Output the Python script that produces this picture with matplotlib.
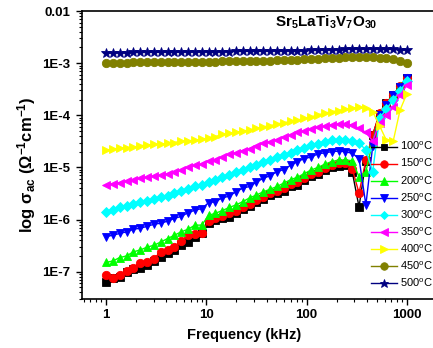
import matplotlib
matplotlib.use("Agg")
import matplotlib.pyplot as plt
from matplotlib.ticker import LogLocator, NullFormatter, FixedLocator, FixedFormatter

plt.rcParams['font.family'] = ['Liberation Sans', 'DejaVu Sans']
plt.rcParams['mathtext.fontset'] = 'custom'
plt.rcParams['mathtext.rm'] = 'Liberation Sans'
plt.rcParams['mathtext.bf'] = 'Liberation Sans:bold'
plt.rcParams['mathtext.it'] = 'Liberation Sans:italic'

# Frequency (kHz)
freq = [1.000, 1.170, 1.369, 1.601, 1.874, 2.193, 2.565, 3.001, 3.511, 4.108,
        4.806, 5.623, 6.579, 7.697, 9.006, 10.54, 12.33, 14.42, 16.88, 19.75,
        23.10, 27.03, 31.62, 37.00, 43.29, 50.65, 59.26, 69.33, 81.11, 94.91,
        111.0, 129.9, 152.0, 177.8, 208.1, 243.5, 284.8, 333.3, 389.9, 456.2,
        533.7, 624.5, 730.6, 854.8, 1000.0]

s100 = [6.3e-8, 7.6e-8, 7.9e-8, 1.0e-7, 1.12e-7, 1.2e-7, 1.35e-7, 1.62e-7, 1.9e-7, 2.3e-7,
        2.6e-7, 3.2e-7, 3.7e-7, 4.7e-7, 5.4e-7, 8.7e-7, 9.8e-7, 1.05e-6, 1.12e-6, 1.32e-6,
        1.58e-6, 1.82e-6, 2.2e-6, 2.5e-6, 2.95e-6, 3.2e-6, 3.6e-6, 4.3e-6, 4.6e-6, 5.8e-6,
        6.8e-6, 7.6e-6, 8.9e-6, 1.0e-5, 1.05e-5, 1.1e-5, 8.3e-6, 1.74e-6, 1.35e-5, 4.2e-5,
        1.07e-4, 1.7e-4, 2.45e-4, 3.55e-4, 5.1e-4]
s150 = [8.5e-8, 7.4e-8, 8.5e-8, 1.02e-7, 1.15e-7, 1.48e-7, 1.51e-7, 1.78e-7, 2.4e-7, 2.6e-7,
        2.95e-7, 3.9e-7, 5.0e-7, 5.2e-7, 5.5e-7, 9.5e-7, 1.05e-6, 1.17e-6, 1.32e-6, 1.48e-6,
        1.74e-6, 2.0e-6, 2.4e-6, 2.75e-6, 3.2e-6, 3.5e-6, 4.1e-6, 4.7e-6, 5.2e-6, 6.3e-6,
        7.4e-6, 8.3e-6, 9.8e-6, 1.1e-5, 1.2e-5, 1.23e-5, 9.5e-6, 3.2e-6, 1.38e-5, 4.2e-5,
        1.1e-4, 1.74e-4, 2.5e-4, 3.6e-4, 5.2e-4]
s200 = [1.5e-7, 1.6e-7, 1.86e-7, 2.0e-7, 2.4e-7, 2.6e-7, 2.95e-7, 3.2e-7, 3.7e-7, 4.3e-7,
        5.0e-7, 5.8e-7, 6.5e-7, 7.8e-7, 7.8e-7, 1.2e-6, 1.32e-6, 1.48e-6, 1.7e-6, 1.9e-6,
        2.2e-6, 2.6e-6, 2.95e-6, 3.4e-6, 3.8e-6, 4.3e-6, 5.0e-6, 5.8e-6, 6.5e-6, 7.6e-6,
        8.9e-6, 1.0e-5, 1.15e-5, 1.29e-5, 1.38e-5, 1.38e-5, 1.35e-5, 6.6e-6, 8.3e-6, 3.1e-5,
        1.02e-4, 1.58e-4, 2.45e-4, 3.6e-4, 5.1e-4]
s250 = [4.7e-7, 5.0e-7, 5.4e-7, 5.8e-7, 6.5e-7, 6.8e-7, 7.4e-7, 8.1e-7, 8.5e-7, 9.3e-7,
        1.05e-6, 1.15e-6, 1.35e-6, 1.51e-6, 1.62e-6, 2.1e-6, 2.2e-6, 2.6e-6, 2.8e-6, 3.4e-6,
        4.0e-6, 4.3e-6, 5.2e-6, 6.2e-6, 6.9e-6, 8.3e-6, 9.1e-6, 1.1e-5, 1.29e-5, 1.48e-5,
        1.58e-5, 1.82e-5, 1.9e-5, 2.0e-5, 2.05e-5, 2.0e-5, 1.86e-5, 1.48e-5, 1.9e-6, 2.6e-5,
        1.0e-4, 1.58e-4, 2.4e-4, 3.55e-4, 5.1e-4]
s300 = [1.41e-6, 1.55e-6, 1.7e-6, 1.82e-6, 1.95e-6, 2.15e-6, 2.3e-6, 2.5e-6, 2.7e-6, 2.8e-6,
        3.2e-6, 3.5e-6, 3.8e-6, 4.3e-6, 4.6e-6, 5.2e-6, 5.8e-6, 6.5e-6, 7.1e-6, 8.3e-6,
        8.9e-6, 1.0e-5, 1.1e-5, 1.29e-5, 1.41e-5, 1.58e-5, 1.74e-5, 1.9e-5, 2.15e-5, 2.4e-5,
        2.7e-5, 2.8e-5, 3.1e-5, 3.3e-5, 3.4e-5, 3.4e-5, 3.2e-5, 2.95e-5, 2.15e-5, 8.3e-6,
        8.7e-5, 1.32e-4, 1.95e-4, 2.95e-4, 4.5e-4]
s350 = [4.6e-6, 4.9e-6, 5.1e-6, 5.5e-6, 5.8e-6, 6.2e-6, 6.5e-6, 6.8e-6, 7.1e-6, 7.6e-6,
        8.1e-6, 8.9e-6, 1.0e-5, 1.1e-5, 1.15e-5, 1.35e-5, 1.41e-5, 1.58e-5, 1.78e-5, 1.9e-5,
        2.1e-5, 2.3e-5, 2.6e-5, 2.9e-5, 3.1e-5, 3.4e-5, 3.8e-5, 4.2e-5, 4.7e-5, 5.0e-5,
        5.4e-5, 5.9e-5, 6.2e-5, 6.5e-5, 6.8e-5, 6.8e-5, 6.5e-5, 5.6e-5, 4.7e-5, 3.2e-5,
        7.1e-5, 1.0e-4, 1.41e-4, 2.4e-4, 3.8e-4]
s400 = [2.15e-5, 2.25e-5, 2.35e-5, 2.4e-5, 2.45e-5, 2.6e-5, 2.7e-5, 2.75e-5, 2.8e-5, 2.9e-5,
        3.0e-5, 3.2e-5, 3.25e-5, 3.3e-5, 3.45e-5, 3.7e-5, 3.9e-5, 4.3e-5, 4.5e-5, 4.7e-5,
        5.0e-5, 5.2e-5, 5.6e-5, 6.0e-5, 6.3e-5, 6.8e-5, 7.2e-5, 7.6e-5, 8.1e-5, 8.7e-5,
        9.3e-5, 1.02e-4, 1.1e-4, 1.17e-4, 1.23e-4, 1.32e-4, 1.38e-4, 1.41e-4, 1.35e-4, 1.17e-4,
        6.3e-5, 3.3e-5, 3.2e-5, 1.26e-4, 2.6e-4]
s450 = [1.02e-3, 1.02e-3, 1.02e-3, 1.02e-3, 1.03e-3, 1.03e-3, 1.03e-3, 1.04e-3, 1.04e-3, 1.04e-3,
        1.05e-3, 1.05e-3, 1.06e-3, 1.06e-3, 1.06e-3, 1.07e-3, 1.07e-3, 1.08e-3, 1.08e-3, 1.09e-3,
        1.10e-3, 1.10e-3, 1.11e-3, 1.12e-3, 1.12e-3, 1.13e-3, 1.14e-3, 1.15e-3, 1.17e-3, 1.18e-3,
        1.20e-3, 1.21e-3, 1.23e-3, 1.25e-3, 1.28e-3, 1.30e-3, 1.31e-3, 1.32e-3, 1.31e-3, 1.29e-3,
        1.26e-3, 1.23e-3, 1.20e-3, 1.12e-3, 1.0e-3]
s500 = [1.58e-3, 1.58e-3, 1.59e-3, 1.59e-3, 1.60e-3, 1.60e-3, 1.61e-3, 1.61e-3, 1.62e-3, 1.62e-3,
        1.63e-3, 1.63e-3, 1.64e-3, 1.64e-3, 1.65e-3, 1.66e-3, 1.66e-3, 1.67e-3, 1.67e-3, 1.68e-3,
        1.68e-3, 1.69e-3, 1.70e-3, 1.70e-3, 1.71e-3, 1.72e-3, 1.72e-3, 1.73e-3, 1.73e-3, 1.74e-3,
        1.75e-3, 1.76e-3, 1.78e-3, 1.80e-3, 1.82e-3, 1.84e-3, 1.86e-3, 1.87e-3, 1.87e-3, 1.87e-3,
        1.86e-3, 1.85e-3, 1.83e-3, 1.80e-3, 1.75e-3]

labels = ['100', '150', '200', '250', '300', '350', '400', '450', '500']
series = [s100, s150, s200, s250, s300, s350, s400, s450, s500]
colors = ['#000000', '#FF0000', '#00FF00', '#0000FF', '#00FFFF', '#FF00FF', '#FFFF00', '#808000', '#000080']
markers = ['s', 'o', '^', 'v', 'D', '<', '>', 'o', '*']
msizes = [5.5, 6, 6, 6, 5, 6, 6, 6, 7]

ytick_vals = [1e-7, 1e-6, 1e-5, 1e-4, 1e-3, 1e-2]
ytick_labels = ['1E-7', '1E-6', '1E-5', '1E-4', '1E-3', '0.01']
xtick_vals = [1, 10, 100, 1000]
xtick_labels = ['1', '10', '100', '1000']

W, H = 433, 348
AX_L, AX_R, AX_T, AX_B = 81.7, 446.0, 11.0, 299.0
fig = plt.figure(figsize=(W / 100, H / 100), dpi=100)
ax = fig.add_axes([AX_L / W, 1 - AX_B / H, (AX_R - AX_L) / W, (AX_B - AX_T) / H])

for lab, ys, c, m, ms in zip(labels, series, colors, markers, msizes):
    ax.plot(freq, ys, color=c, marker=m, markersize=ms, markeredgewidth=0.6,
            markeredgecolor=c, linewidth=1.0, label=lab + r'$^{\mathrm{o}}$C')

ax.set_xscale('log')
ax.set_yscale('log')
ax.set_xlim(10 ** ((AX_L - 106) / 100.3), 10 ** ((AX_R - 106) / 100.3))
ax.set_ylim(10 ** -7.525, 1e-2)

ax.yaxis.set_major_locator(FixedLocator(ytick_vals))
ax.yaxis.set_major_formatter(FixedFormatter(ytick_labels))
ax.yaxis.set_minor_locator(LogLocator(base=10, subs=range(2, 10), numticks=20))
ax.yaxis.set_minor_formatter(NullFormatter())
ax.xaxis.set_major_locator(FixedLocator(xtick_vals))
ax.xaxis.set_major_formatter(FixedFormatter(xtick_labels))
ax.xaxis.set_minor_locator(LogLocator(base=10, subs=range(2, 10), numticks=20))
ax.xaxis.set_minor_formatter(NullFormatter())

ax.tick_params(which='major', direction='out', length=4, width=1.0, labelsize=9.5)
ax.tick_params(axis='y', which='major', pad=4)
ax.tick_params(axis='x', which='major', pad=3)
ax.tick_params(which='minor', direction='out', length=2, width=0.8)
for lbl in ax.get_xticklabels() + ax.get_yticklabels():
    lbl.set_fontweight('bold')
for sp in ax.spines.values():
    sp.set_linewidth(1.2)

AW, AH = AX_R - AX_L, AX_B - AX_T
ax.set_xlabel('Frequency (kHz)', fontsize=10.5, fontweight='bold')
ax.xaxis.set_label_coords((243.7 - AX_L) / AW, (AX_B - 328) / AH)
ax.set_ylabel(r'log σ$_{\mathbf{ac}}$ (Ω$^{\mathbf{-1}}$cm$^{\mathbf{-1}}$)',
              fontsize=12, fontweight='bold')
ax.yaxis.set_label_coords((38 - AX_L) / AW, (AX_B - 165) / AH)

fig.text(275 / W, 1 - 27 / H, r'Sr$_{\mathbf{5}}$LaTi$_{\mathbf{3}}$V$_{\mathbf{7}}$O$_{\mathbf{30}}$',
         fontsize=11, fontweight='bold', ha='left', va='baseline')

leg = ax.legend(loc='upper left', bbox_to_anchor=(371 / W, 1 - 140 / H),
                bbox_transform=fig.transFigure, frameon=False, fontsize=8,
                handlelength=2.3, handletextpad=0.3, labelspacing=0.42,
                borderpad=0, borderaxespad=0, markerscale=0.9)

fig.savefig('out.png', dpi=100)
